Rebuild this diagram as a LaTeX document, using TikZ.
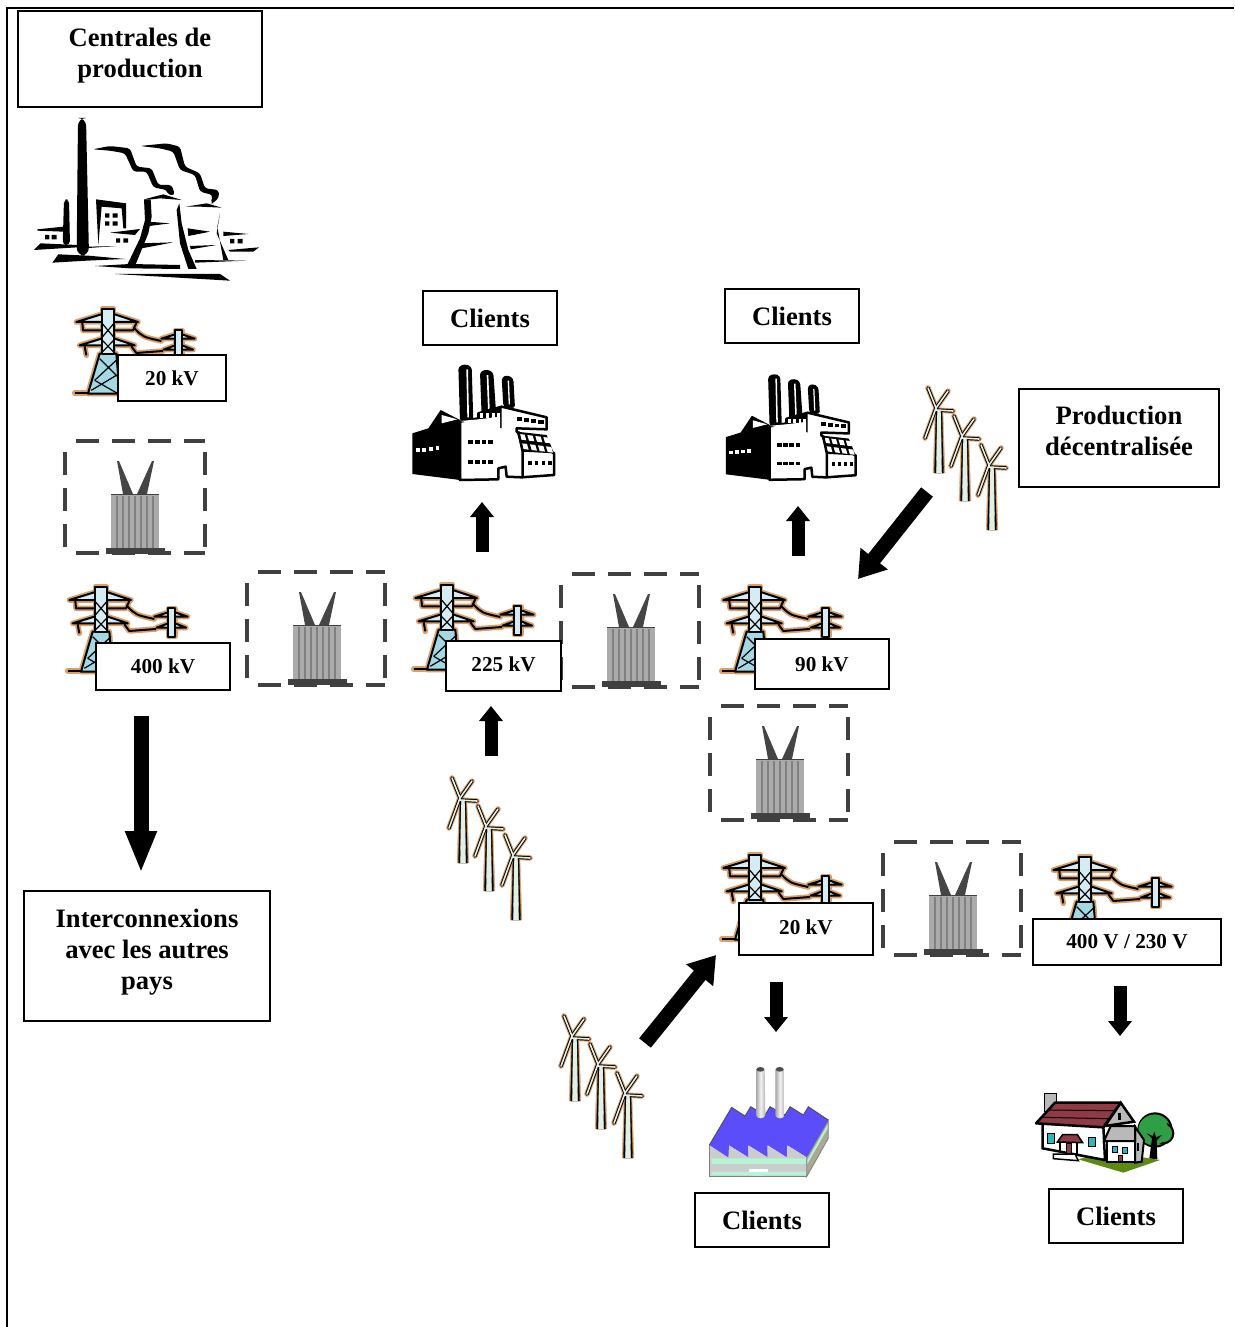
\documentclass[tikz,border=0pt]{standalone}
\usepackage{fontspec}
\setmainfont{Liberation Serif}
\usetikzlibrary{arrows.meta}
\definecolor{halo}{HTML}{D9A06A}
\definecolor{paleblue}{HTML}{D5EDF2}
\definecolor{midblue}{HTML}{A3D8E4}
\definecolor{dashgray}{HTML}{404040}
\definecolor{coregray}{HTML}{ABABAB}
\definecolor{bushgray}{HTML}{454545}
\definecolor{purpleroof}{HTML}{5B4DFA}
\definecolor{wallgray}{HTML}{CCCCCC}
\definecolor{bandgreen}{HTML}{B3F5D5}
\definecolor{sidegray}{HTML}{A9A994}
\definecolor{roofred}{HTML}{8E3B46}
\definecolor{housegray}{HTML}{B9B9B9}
\definecolor{groundgreen}{HTML}{5D8A10}
\definecolor{treegreen}{HTML}{2F9E44}
\definecolor{wincyan}{HTML}{2FB5C0}
\definecolor{towerpale}{HTML}{E4EFE4}
\tikzset{
  x=1pt,y=-1pt,
  labelbox/.style={draw=black,line width=2pt,fill=white,inner sep=0pt,align=center,font=\bfseries\fontsize{21.2}{25}\selectfont},
  titlebox/.style={draw=black,line width=2pt,fill=white,inner sep=0pt,align=center,font=\bfseries\fontsize{26.6}{31}\selectfont},
  bigarrow/.style={line width=15pt,-{Triangle[length=42pt,width=29pt]}},
  smallarrow/.style={line width=13pt,-{Triangle[length=15pt,width=23pt]}},
  diagarrow/.style={line width=15pt,-{Triangle[length=26pt,width=33pt]}},
  haloline/.style={draw=halo,line width=5.5pt,line join=round,line cap=round},
  inkline/.style={draw=black,line width=2pt,line join=round},
  trbox/.style={draw=dashgray,line width=4.5pt,dash pattern=on 23pt off 13pt,dash phase=25pt},
}
\newcommand{\PylonGeom}[1]{%
  \path[#1,fill=paleblue] (170,635)--(245,612)--(285,612)--(355,635)--cycle;
  \path[#1,fill=paleblue] (180,705)--(245,685)--(285,685)--(345,705)--cycle;
  \path[#1] (188,638)--(190,660)--(340,660)--(350,638);
  \path[#1] (195,708)--(200,735);
  \path[#1] (345,655) .. controls (370,680) .. (425,692);
  \path[#1] (335,708) -- (350,728) -- (430,722);
  \path[#1] (165,848)--(205,848);
  \path[#1,fill=midblue] (240,730)--(205,850)--(300,850)--(290,730)--cycle;
  \path[#1,fill=paleblue] (248,595)--(282,595)--(282,730)--(248,730)--cycle;
  \path[#1,fill=paleblue] (425,685)--(467,672)--(487,672)--(525,685)--cycle;
  \path[#1,fill=paleblue] (432,718)--(467,705)--(487,705)--(520,718)--cycle;
  \path[#1,fill=paleblue] (467,660)--(487,660)--(487,745)--(467,745)--cycle;
}
\newcommand{\PylonIcon}[2]{%
  \begin{scope}[shift={({#1-88.33},{#2-196.67})},scale=1/3]
    \PylonGeom{haloline}
    \PylonGeom{inkline}
    \draw[black,line width=1.2pt] (248,640)--(282,680) (282,640)--(248,680)
      (248,690)--(282,725) (282,690)--(248,725)
      (240,745)--(295,800) (295,745)--(225,810) (225,810)--(295,850) (215,840)--(290,795);
  \end{scope}}
\newcommand{\TransformerIcon}[4]{%
  \draw[trbox] (#1,#2)--(#3,#2);
  \draw[trbox] (#3,#2)--(#3,#4);
  \draw[trbox] (#1,#2)--(#1,#4);
  \draw[trbox] (#1,#4)--(#3,#4);
  \begin{scope}[shift={(#1,#2)}]
    \fill[coregray] (46,53) rectangle (94,109);
    \foreach \xs in {52,58,64,70,76,82,88}
      \draw[gray,line width=1.2pt] (\xs,55)--(\xs,108);
    \draw[dashgray,line width=1pt] (46,53)--(94,53);
    \fill[bushgray] (58,53)--(52,20)--(54,20)--(68,53)--cycle;
    \fill[bushgray] (72,53)--(87,20)--(89,20)--(82,53)--cycle;
    \fill[dashgray] (41,107) rectangle (100,113);
  \end{scope}}
\newcommand{\OneTurbine}[2]{%
  \begin{scope}[shift={(#1,#2)}]
    \foreach \c/\w/\wb in {halo/5.5/6,black/3.5/4.5,towerpale/1.6/2.6}{
      \draw[\c,line width=\w pt,line cap=round] (0,0)--(-8,-20);
      \draw[\c,line width=\w pt,line cap=round] (0,0)--(12,-17);
      \draw[\c,line width=\w pt,line cap=round] (0,0)--(-11,30);
      \draw[\c,line width=\w pt,line cap=round] (0,2)--(17,3);
      \fill[\c,draw=\c,line width=.3pt] (3-\wb*.65,2)--(3+\wb*.65,2)--(3+\wb,65)--(3-\wb,65)--cycle;
    }
  \end{scope}}
\newcommand{\TurbineTrio}[2]{%
  \OneTurbine{#1}{#2}
  \OneTurbine{#1+26}{#2+28}
  \OneTurbine{#1+53}{#2+57}}
\newcommand{\FactoryIcon}[3]{%
  \begin{scope}[shift={(#1,#2)},scale=#3]
    \fill[black] (37,220)--(85,205)--(122,150)--(180,180)--(180,360)--(37,342)--cycle;
    \fill[white] (125,165)--(125,190)--(172,178)--cycle;
    \fill[black,rounded corners=3pt] (175,20)--(195,12)--(215,20)--(220,185)--(180,185)--cycle;
    \fill[white] (199,28)--(204,28)--(207,172)--(202,172)--cycle;
    \fill[black,rounded corners=3pt] (240,35)--(262,28)--(280,38)--(288,155)--(245,170)--cycle;
    \fill[white] (260,45)--(265,45)--(269,145)--(264,148)--cycle;
    \fill[black,rounded corners=3pt] (305,52)--(322,45)--(340,55)--(345,145)--(310,140)--cycle;
    \fill[white] (323,62)--(327,62)--(330,133)--(326,133)--cycle;
    \filldraw[fill=white,draw=black,line width=2.5pt,line join=round]
      (180,185)--(235,175)--(235,160)--(305,140)--(440,172)--(440,208)--(350,205)--(350,215)--(462,280)
      --(462,345)--(365,352)--(320,350)--(317,320)--(295,325)--(295,358)--(180,360)--cycle;
    \fill[black] (235,160)--(305,140)--(305,205)--(235,180)--cycle;
    \foreach \xs in {240,258,275,290} \fill[white] (\xs,160) rectangle (\xs+9,175);
    \fill[white] (300,205)--(180,183)--(235,178)--(300,170)--cycle;
    \fill[black] (350,215)--(440,225)--(462,280)--(368,275)--cycle;
    \foreach \xs/\ys in {358/222,382/225,406/228,430/231,365/250,390/253,414/256,438/259}
      \fill[white] (\xs,\ys)--(\xs+16,\ys+2)--(\xs+21,\ys+19)--(\xs+5,\ys+17)--cycle;
    \draw[black,line width=2.5pt] (368,275)--(368,352) (355,215)--(368,275);
    \foreach \xs in {48,67,87,107} \fill[white] (\xs,{265-(\xs-48)*.1}) rectangle (\xs+11,{277-(\xs-48)*.1});
    \foreach \xs in {205,225,245,265} {\fill[black] (\xs,240) rectangle (\xs+14,252);
      \fill[black] (\xs,300) rectangle (\xs+14,312);}
    \foreach \xs in {350,372,393,415} \fill[black] (\xs,{172+(\xs-350)*.1}) rectangle (\xs+16,{184+(\xs-350)*.1});
    \foreach \xs in {385,405,425,445} \fill[black] (\xs,303) rectangle (\xs+10,314);
  \end{scope}}
\begin{document}
\begin{tikzpicture}
\useasboundingbox (0,0) rectangle (1234,1327);
% outer frame
\coordinate (frameA) at (1234,8);
\coordinate (frameB) at (7,8);
\coordinate (frameC) at (7,1327);
\draw[black,line width=2pt] (frameA)--(frameB)--(frameC);

% power plant
\begin{scope}[shift={(20,110)},scale=1/3]
  \fill[black,rounded corners=8pt] (170,437)--(174,24)--(198,24)--(207,437)--cycle;
  \fill[black,rounded corners=4pt] (128,405)--(132,268)--(147,268)--(150,405)--cycle;
  \fill[black] (52,358)--(130,350)--(130,365)--(52,362)--cycle;
  \fill[black] (42,420)--(62,400)--(172,405)--(172,412)--cycle;
  \fill[black] (75,375) rectangle (88,388) (95,375) rectangle (110,388);
  \fill[black] (97,458)--(115,433)--(205,437)--(315,447)--(200,452)--cycle;
  \fill[black] (228,268)--(318,280)--(318,355)--(310,355)--(305,295)--(245,290)--(235,405)--cycle;
  \fill[black] (255,310) rectangle (268,323) (278,310) rectangle (293,323)
               (255,334) rectangle (268,347) (278,334) rectangle (293,347);
  \fill[black] (270,368)--(360,357)--(345,375)--cycle;
  \fill[black] (288,385) rectangle (300,398) (310,385) rectangle (324,398);
  \fill[black] (205,410)--(290,408)--(205,414)--cycle;
  \fill[black] (372,268)--(430,253)--(485,270)--(420,265)--(395,268)--cycle;
  \fill[black] (372,268)--(392,268)--(395,320)--(385,370)--(345,468)--(320,468)--(360,385)--(375,330)--cycle;
  \fill[black] (385,335)--(450,340)--(388,348)--cycle;
  \fill[black] (365,400)--(460,397)--(365,415)--cycle;
  \fill[black] (225,468)--(330,462)--(480,465)--(480,477)--(330,475)--cycle;
  \fill[black] (470,300)--(478,280)--(485,340)--(505,420)--(530,477)--(505,477)--(480,400)--cycle;
  \fill[black] (497,290)--(560,280)--(605,293)--(540,290)--cycle;
  \fill[black] (503,355)--(570,365)--(505,378)--cycle;
  \fill[black] (510,408)--(590,405)--(512,418)--cycle;
  \fill[black] (600,310)--(590,370)--(625,450)--(610,450)--(592,350)--cycle;
  \fill[black] (525,450)--(680,452)--(525,458)--cycle;
  \fill[black,rounded corners=3pt] (218,118)--(270,108)--(330,115)--(350,170)--(395,175)--(415,225)--(455,225)--(465,255)--(445,255)--(440,240)--(400,232)--(380,185)--(340,185)--(315,130)--(270,122)--cycle;
  \fill[black,rounded corners=3pt] (360,108)--(440,100)--(480,110)--(495,170)--(540,190)--(555,235)--(595,240)--(598,260)--(580,280)--(572,280)--(578,255)--(540,245)--(525,195)--(480,180)--(460,125)--(420,115)--cycle;
  \fill[black] (610,365)--(685,372)--(610,378)--cycle;
  \fill[black] (625,420)--(717,412)--(700,425)--(630,425)--cycle;
  \fill[black] (630,387) rectangle (643,400) (653,387) rectangle (668,400);
  \fill[black] (285,492)--(600,492)--(630,512)--cycle;
\end{scope}

% pylons
\PylonIcon{108}{307}
\PylonIcon{101}{585}
\PylonIcon{447}{583}
\PylonIcon{755}{585}
\PylonIcon{755}{853}
\PylonIcon{1085}{855}

% transformers
\TransformerIcon{65}{441}{205}{553}
\TransformerIcon{247}{572}{385}{685}
\TransformerIcon{561}{574}{699}{687}
\TransformerIcon{710}{706}{848}{820}
\TransformerIcon{883}{842}{1021}{955}

% factories
\FactoryIcon{400}{360}{1/3}
\FactoryIcon{714.7}{370}{0.305}

% turbines
\TurbineTrio{936}{408}
\TurbineTrio{460}{798}
\TurbineTrio{572}{1036}

% purple factory
\begin{scope}[shift={(690,1060)},scale=1/3]
  \fill[wallgray] (58,255)--(58,350)--(350,350)--(350,292)--cycle;
  \fill[bandgreen] (64,295) rectangle (348,312) (64,335) rectangle (348,346);
  \fill[white] (178,327) rectangle (233,337);
  \fill[bandgreen] (190,337) rectangle (220,351);
  \draw[gray,line width=1pt] (58,255)--(58,350)--(350,350);
  \filldraw[fill=sidegray,draw=gray,line width=.8pt] (350,292)--(415,180)--(415,235)--(350,350)--cycle;
  \fill[bandgreen] (352,300)--(413,193)--(413,205)--(352,312)--cycle;
  \fill[purpleroof] (58,255)--(125,142)--(165,168)--(182,140)--(225,165)--(240,140)--(285,165)--(300,140)--(340,165)--(355,140)--(415,180)--(350,292)--(292,256)--(290,292)--(233,256)--(233,292)--(175,256)--(175,292)--(117,256)--(115,292)--cycle;
  \draw[black!70,line width=.8pt] (58,255)--(125,142)--(165,168)--(182,140)--(225,165)--(240,140)--(285,165)--(300,140)--(340,165)--(355,140)--(415,180);
  \fill[wallgray] (117,256)--(175,292)--(117,292)--cycle (175,256)--(233,292)--(175,292)--cycle (233,256)--(290,292)--(233,292)--cycle (292,256)--(350,292)--(292,292)--cycle;
  \foreach \xs in {198,256} {
    \shade[left color=gray!70,right color=gray!60,middle color=gray!10] (\xs,28)--(\xs+26,28)--(\xs+28,165) arc[start angle=0,end angle=-180,x radius=14,y radius=-10]--cycle;
    \fill[black!70] (\xs+13,28) ellipse[x radius=12,y radius=7];
  }
\end{scope}

% house
\begin{scope}[shift={(1020,1080)},scale=1/3]
  \fill[groundgreen] (175,238)--(255,215)--(420,240)--(310,278)--cycle;
  \filldraw[fill=treegreen,draw=black,line width=2pt] (405,150) circle[radius=50];
  \filldraw[fill=treegreen,draw=black,line width=2pt] (430,160) circle[radius=30];
  \fill[treegreen] (400,150) circle[radius=45];
  \fill[black] (388,235)--(396,175)--(380,160)--(398,168)--(403,155)--(408,172)--(425,165)--(410,182)--(412,238)--cycle;
  \filldraw[fill=housegray,draw=black,line width=1pt] (72,40) rectangle (108,95);
  \filldraw[fill=white,draw=black,line width=2.5pt] (68,130)--(250,138)--(255,240)--(68,205)--cycle;
  \filldraw[fill=housegray,draw=black,line width=2.5pt] (302,68)--(342,125)--(255,138)--cycle;
  \fill[black] (295,98) rectangle (304,120);
  \filldraw[fill=roofred,draw=black,line width=2.5pt,line join=round] (48,130)--(105,68)--(302,68)--(250,142)--cycle;
  \draw[black,line width=1pt] (85,90)--(280,92) (68,112)--(265,116);
  \filldraw[fill=white,draw=black,line width=2pt] (262,183) rectangle (345,245);
  \filldraw[fill=housegray,draw=black,line width=2pt] (345,140)--(372,180)--(365,245)--(345,248)--cycle;
  \filldraw[fill=housegray,draw=black,line width=2pt] (252,183)--(272,138)--(345,138)--(345,183)--cycle;
  \fill[black] (351,190) rectangle (358,212);
  \filldraw[fill=wincyan,draw=black,line width=1pt] (82,160) rectangle (104,190);
  \filldraw[fill=wincyan,draw=black,line width=1pt] (205,172) rectangle (227,200);
  \filldraw[fill=wincyan,draw=black,line width=1pt] (277,198) rectangle (291,217);
  \filldraw[fill=wincyan,draw=black,line width=1pt] (307,202) rectangle (323,220);
  \filldraw[fill=roofred,draw=black,line width=1pt] (295,225) rectangle (306,243);
  \filldraw[fill=roofred,draw=black,line width=1pt] (140,190) rectangle (155,220);
  \draw[black,line width=2pt] (120,186)--(120,218) (170,188)--(170,222);
  \filldraw[fill=roofred,draw=black,line width=1.5pt] (112,186)--(128,164)--(172,164)--(188,188)--cycle;
  \filldraw[fill=white,draw=black,line width=1.5pt] (100,222)--(165,222)--(175,242)--(100,236)--cycle;
\end{scope}

% arrows
\coordinate (aA) at (141,716); \coordinate (aB) at (141,873);
\draw[bigarrow] (aA)--(aB);
\coordinate (bA) at (482,552); \coordinate (bB) at (482,502);
\draw[smallarrow] (bA)--(bB);
\coordinate (cA) at (798,556); \coordinate (cB) at (798,506);
\draw[smallarrow] (cA)--(cB);
\coordinate (dA) at (491,756); \coordinate (dB) at (491,706);
\draw[smallarrow] (dA)--(dB);
\coordinate (eA) at (776,982); \coordinate (eB) at (776,1032);
\draw[smallarrow] (eA)--(eB);
\coordinate (fA) at (1120,986); \coordinate (fB) at (1120,1036);
\draw[smallarrow] (fA)--(fB);
\coordinate (gA) at (927,492); \coordinate (gB) at (858,579);
\draw[diagarrow] (gA)--(gB);
\coordinate (hA) at (645,1043); \coordinate (hB) at (716,955);
\draw[diagarrow] (hA)--(hB);

% labels
\node[titlebox,minimum width=244pt,minimum height=96pt] (central) at (140,59) {Centrales de\\production\rule[-13pt]{0pt}{13pt}};
\node[labelbox,minimum width=108pt,minimum height=46pt] (kvA) at (172,378) {20 kV};
\node[labelbox,minimum width=134pt,minimum height=47pt] (kvB) at (163,666.5) {400 kV};
\node[labelbox,minimum width=115pt,minimum height=50pt] (kvC) at (503.5,666) {225 kV\rule[-4pt]{0pt}{4pt}};
\node[labelbox,minimum width=134pt,minimum height=50pt] (kvD) at (822,664) {90 kV};
\node[labelbox,minimum width=134pt,minimum height=52pt] (kvE) at (806,929) {20 kV\rule[-4pt]{0pt}{4pt}};
\node[labelbox,minimum width=188pt,minimum height=46pt] (kvF) at (1127,942) {400 V / 230 V};
\node[titlebox,minimum width=134pt,minimum height=54pt] (clA) at (490,318) {Clients};
\node[titlebox,minimum width=134pt,minimum height=54pt] (clB) at (792,316) {Clients};
\node[titlebox,minimum width=134pt,minimum height=54pt] (clC) at (762,1220) {Clients};
\node[titlebox,minimum width=134pt,minimum height=54pt] (clD) at (1116,1216) {Clients};
\node[titlebox,minimum width=200pt,minimum height=98pt] (prod) at (1119,438) {Production\\décentralisée\rule[-14pt]{0pt}{14pt}};
\node[titlebox,minimum width=246pt,minimum height=130pt] (inter) at (147,956) {Interconnexions\\avec les autres\\pays\rule[-14pt]{0pt}{14pt}};
\end{tikzpicture}
\end{document}
